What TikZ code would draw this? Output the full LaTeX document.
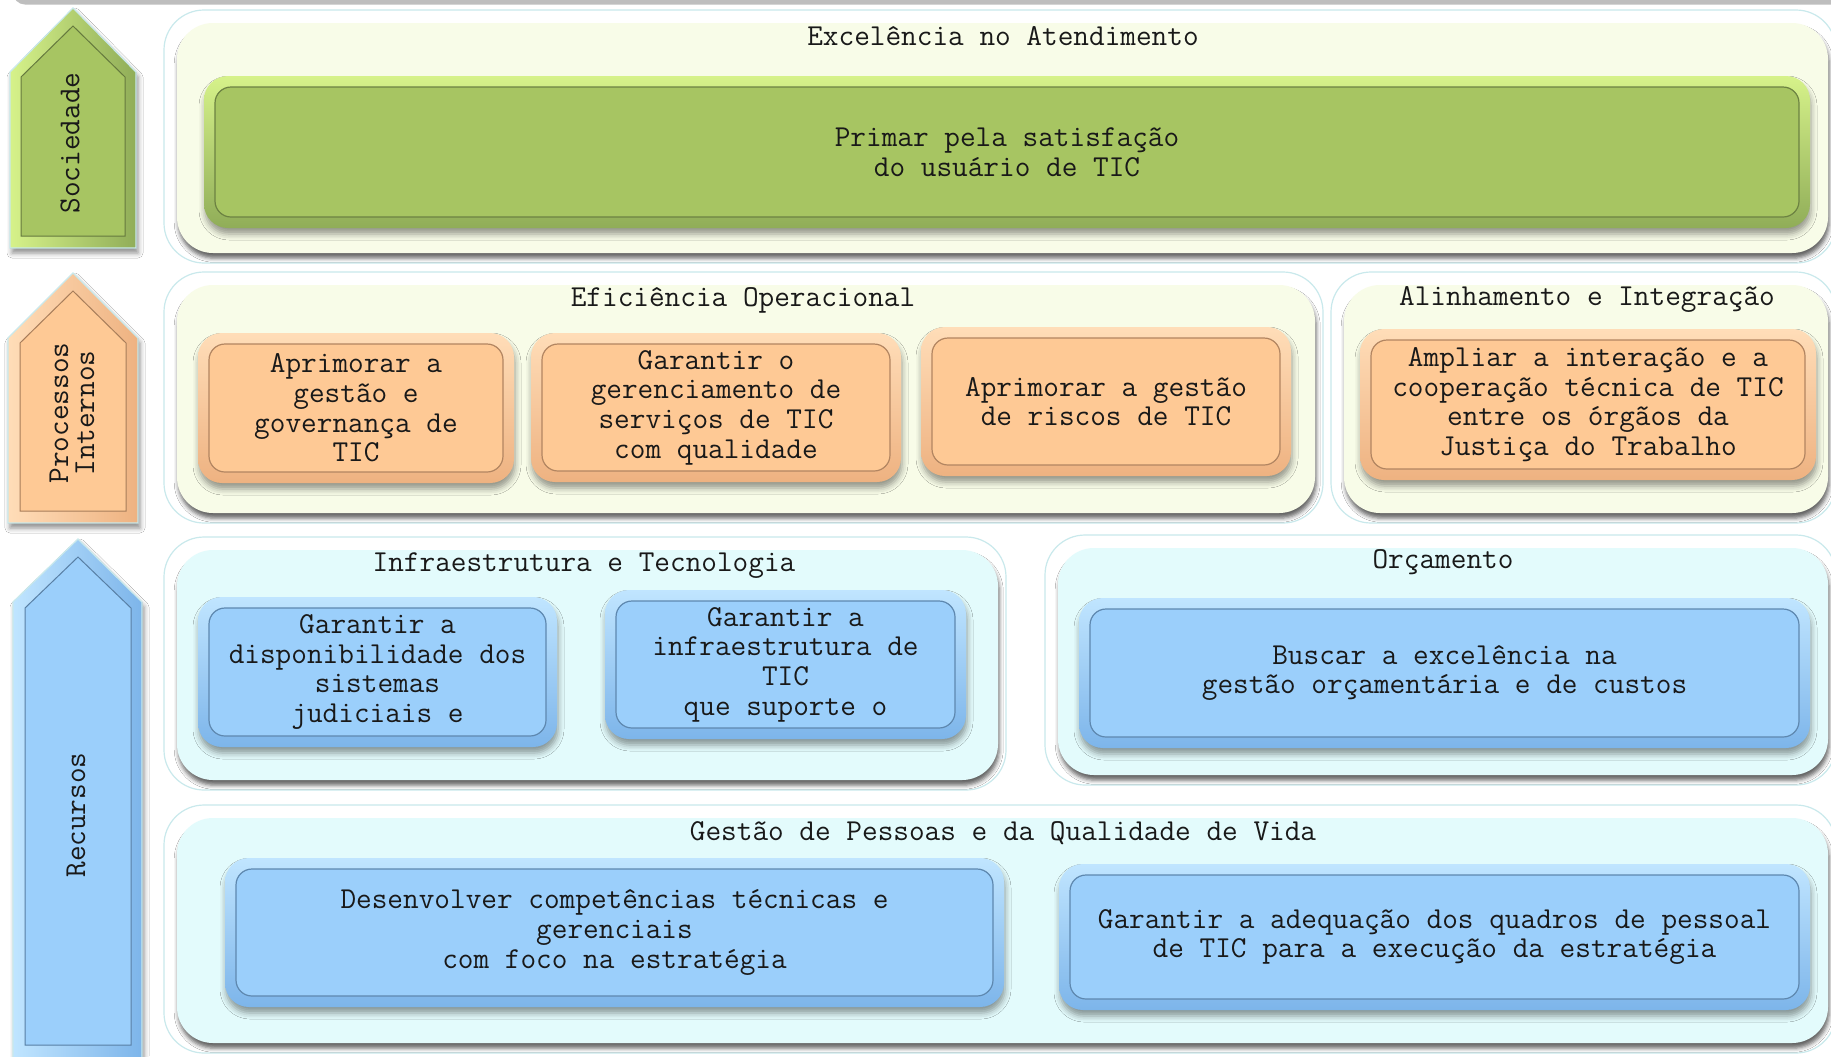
\documentclass[tikz,border=0pt]{standalone}
\usepackage{fontspec}
\usetikzlibrary{fit,calc,shadows,shadows.blur}
\definecolor{barGray}{HTML}{BEBEBE}
\definecolor{frY}{HTML}{F8FCE8}
\definecolor{frB}{HTML}{E3FBFC}
\definecolor{frEdge}{HTML}{C9E9EC}
\definecolor{grFace}{HTML}{A7C562}
\definecolor{grHi}{HTML}{D6F28A}
\definecolor{grLo}{HTML}{90AD58}
\definecolor{orFace}{HTML}{FEC995}
\definecolor{orHi}{HTML}{FFDDB8}
\definecolor{orLo}{HTML}{EEB281}
\definecolor{blFace}{HTML}{9BCFFB}
\definecolor{blHi}{HTML}{C0E5FF}
\definecolor{blLo}{HTML}{7DB5EA}
\newcommand\objbox[7]{%
  \node[objrim, top color=#6Hi, bottom color=#6Lo, fit={(#2,#3) (#4,#5)}] (#1rim) {};
  \node[objface, fill=#6Face, draw=#6Lo!75!black, fit={($(#2,#3)+(11,11)$) ($(#4,#5)+(-11,-11)$)}] (#1face) {};
  \node[txt] (#1) at (#1face.center) {#7};
}
\newcommand\frmbox[6]{%
  \node[frout, fit={(#2,#3) (#4,#5)}] (#1out) {};
  \node[frin, fill=#6, fit={($(#2,#3)+(13,13)$) ($(#4,#5)+(-8,-10)$)}] (#1in) {};
}
\begin{document}
\begin{tikzpicture}[x=0.5pt,y=-0.5pt,
  txt/.style={font=\fontsize{15.2}{14.8}\selectfont\ttfamily, align=center, inner sep=0pt, text=black!90},
  frout/.style={draw=frEdge, line width=0.6pt, fill=white, rounded corners=20pt, inner sep=0pt},
  frin/.style={rounded corners=18pt, inner sep=0pt,
    blur shadow={shadow xshift=0.6pt, shadow yshift=-2.6pt, shadow blur radius=2pt, shadow opacity=60}},
  objrim/.style={rounded corners=12pt, inner sep=0pt,
    blur shadow={shadow xshift=0.5pt, shadow yshift=-3pt, shadow blur radius=3pt, shadow opacity=40}},
  objface/.style={rounded corners=8pt, inner sep=0pt, line width=0.6pt},
  arrrim/.style={draw=frEdge, line width=0.6pt,
    blur shadow={shadow xshift=1pt, shadow yshift=-2.5pt, shadow blur radius=2.5pt, shadow opacity=45}},
  arrface/.style={line width=0.5pt}]
\useasboundingbox (0,0) rectangle (1831,1056);
\clip (0,0) rectangle (1831,1056);
\fill[white] (0,0) rectangle (1831,1056);
% top bar
\fill[barGray, rounded corners=6pt] (13,-30) rectangle (1860,4.5);

% perspective arrows
\fill[arrrim, left color=grHi, right color=grLo] (10,72) -- (73,8) -- (136,72) -- (136,248) -- (10,248) -- cycle;
\filldraw[arrface, fill=grFace, draw=grLo!70!black] (21,77) -- (73,26) -- (125,77) -- (125,236) -- (21,236) -- cycle;
\node[txt, rotate=90] (soc) at (70,143) {Sociedade};

\fill[arrrim, left color=orHi, right color=orLo] (8,338) -- (73,273) -- (138,338) -- (138,523) -- (8,523) -- cycle;
\filldraw[arrface, fill=orFace, draw=orLo!70!black] (20,343) -- (73,291) -- (126,343) -- (126,511) -- (20,511) -- cycle;
\node[txt, rotate=90, font=\fontsize{15.2}{13}\selectfont\ttfamily] (proc) at (72,413) {Processos\\Internos};

\fill[arrrim, left color=blHi, right color=blLo] (13,602) -- (78,539) -- (142,602) -- (142,1062) -- (13,1062) -- cycle;
\filldraw[arrface, fill=blFace, draw=blLo!70!black] (25,608) -- (78,557) -- (131,608) -- (131,1045) -- (25,1045) -- cycle;
\node[txt, rotate=90] (rec) at (76,815) {Recursos};

% frames
\frmbox{exc}{164}{10}{1836}{263}{frY}
\frmbox{efi}{164}{272}{1323}{523}{frY}
\frmbox{ali}{1331}{272}{1836}{523}{frY}
\frmbox{inf}{164}{537}{1006}{790}{frB}
\frmbox{orc}{1045}{535}{1836}{785}{frB}
\frmbox{ges}{164}{805}{1836}{1053}{frB}

% frame titles
\node[txt, anchor=base] (excT) at (1003,45) {Excelência no Atendimento};
\node[txt, anchor=base] (efiT) at (743,306.5) {Eficiência Operacional};
\node[txt, anchor=base] (aliT) at (1587,305.5) {Alinhamento e Integração};
\node[txt, anchor=base] (infT) at (584,571.5) {Infraestrutura e Tecnologia};
\node[txt, anchor=base] (orcT) at (1443,568.5) {Orçamento};
\node[txt, anchor=base] (gesT) at (1003,840.5) {Gestão de Pessoas e da Qualidade de Vida};

% objectives
\objbox{prim}{204}{76}{1810}{228}{gr}{Primar pela satisfação\\do usuário de TIC}
\objbox{apr}{198}{333}{514}{483}{or}{Aprimorar a\\gestão e\\governança de\\TIC}
\objbox{ger}{531}{333}{901}{482}{or}{Garantir o\\gerenciamento de\\serviços de TIC\\com qualidade}
\objbox{ris}{921}{327}{1291}{476}{or}{Aprimorar a gestão\\de riscos de TIC}
\objbox{amp}{1360}{329}{1816}{480}{or}{Ampliar a interação e a\\cooperação técnica de TIC\\entre os órgãos da\\Justiça do Trabalho}
\objbox{dis}{198}{597}{557}{747}{bl}{Garantir a\\disponibilidade dos\\sistemas\\judiciais e}
\objbox{ift}{605}{590}{966}{739}{bl}{Garantir a\\infraestrutura de\\TIC\\que suporte o}
\objbox{bus}{1079}{598}{1810}{748}{bl}{Buscar a excelência na\\gestão orçamentária e de custos}
\objbox{dev}{225}{858}{1004}{1007}{bl}{Desenvolver competências técnicas e\\gerenciais\\com foco na estratégia}
\objbox{ade}{1059}{864}{1810}{1010}{bl}{Garantir a adequação dos quadros de pessoal\\de TIC para a execução da estratégia}
\end{tikzpicture}
\end{document}
